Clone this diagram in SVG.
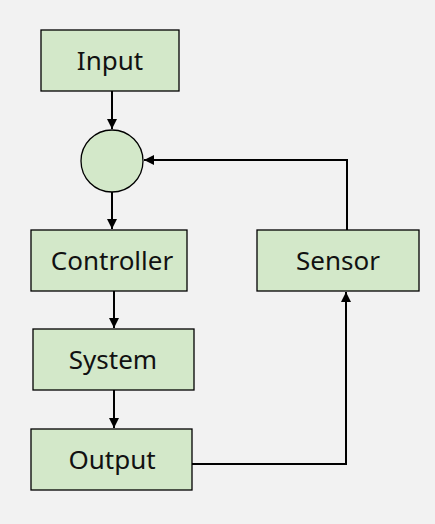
<svg xmlns="http://www.w3.org/2000/svg" width="435" height="524" viewBox="0 0 435 524">
<style>
.box{fill:#d3e8c9;stroke:#000;stroke-width:1.3}
.lbl{font-family:"Noto Sans","Open Sans",sans-serif;font-size:26px;fill:#111;text-anchor:middle}
.edge{fill:none;stroke:#000;stroke-width:2}
</style>
<defs>
<marker id="ah" viewBox="0 0 10 10" refX="10" refY="5" markerWidth="10" markerHeight="10" markerUnits="userSpaceOnUse" orient="auto">
<path d="M0,0L10,5L0,10z" fill="#000"/>
</marker>
</defs>
<rect width="435" height="524" fill="#f2f2f2"/>
<g id="connectors">
<path class="edge" d="M112,91V129" marker-end="url(#ah)"/>
<path class="edge" d="M112,192V229" marker-end="url(#ah)"/>
<path class="edge" d="M114,291V328" marker-end="url(#ah)"/>
<path class="edge" d="M114,390V428" marker-end="url(#ah)"/>
<path class="edge" d="M192,464H346V292" marker-end="url(#ah)"/>
<path class="edge" d="M347,230V160H144" marker-end="url(#ah)"/>
</g>
<g id="input"><rect class="box" x="41" y="30" width="138" height="61"/><text class="lbl" x="110" y="70">Input</text></g>
<g id="sum"><circle class="box" cx="112" cy="161" r="31"/></g>
<g id="controller"><rect class="box" x="31" y="230" width="156" height="61"/><text class="lbl" x="112" y="270">Controller</text></g>
<g id="system"><rect class="box" x="33" y="329" width="161" height="61"/><text class="lbl" x="113" y="369">System</text></g>
<g id="output"><rect class="box" x="31" y="429" width="161" height="61"/><text class="lbl" x="112" y="469">Output</text></g>
<g id="sensor"><rect class="box" x="257" y="230" width="162" height="61"/><text class="lbl" x="338" y="270">Sensor</text></g>
</svg>
